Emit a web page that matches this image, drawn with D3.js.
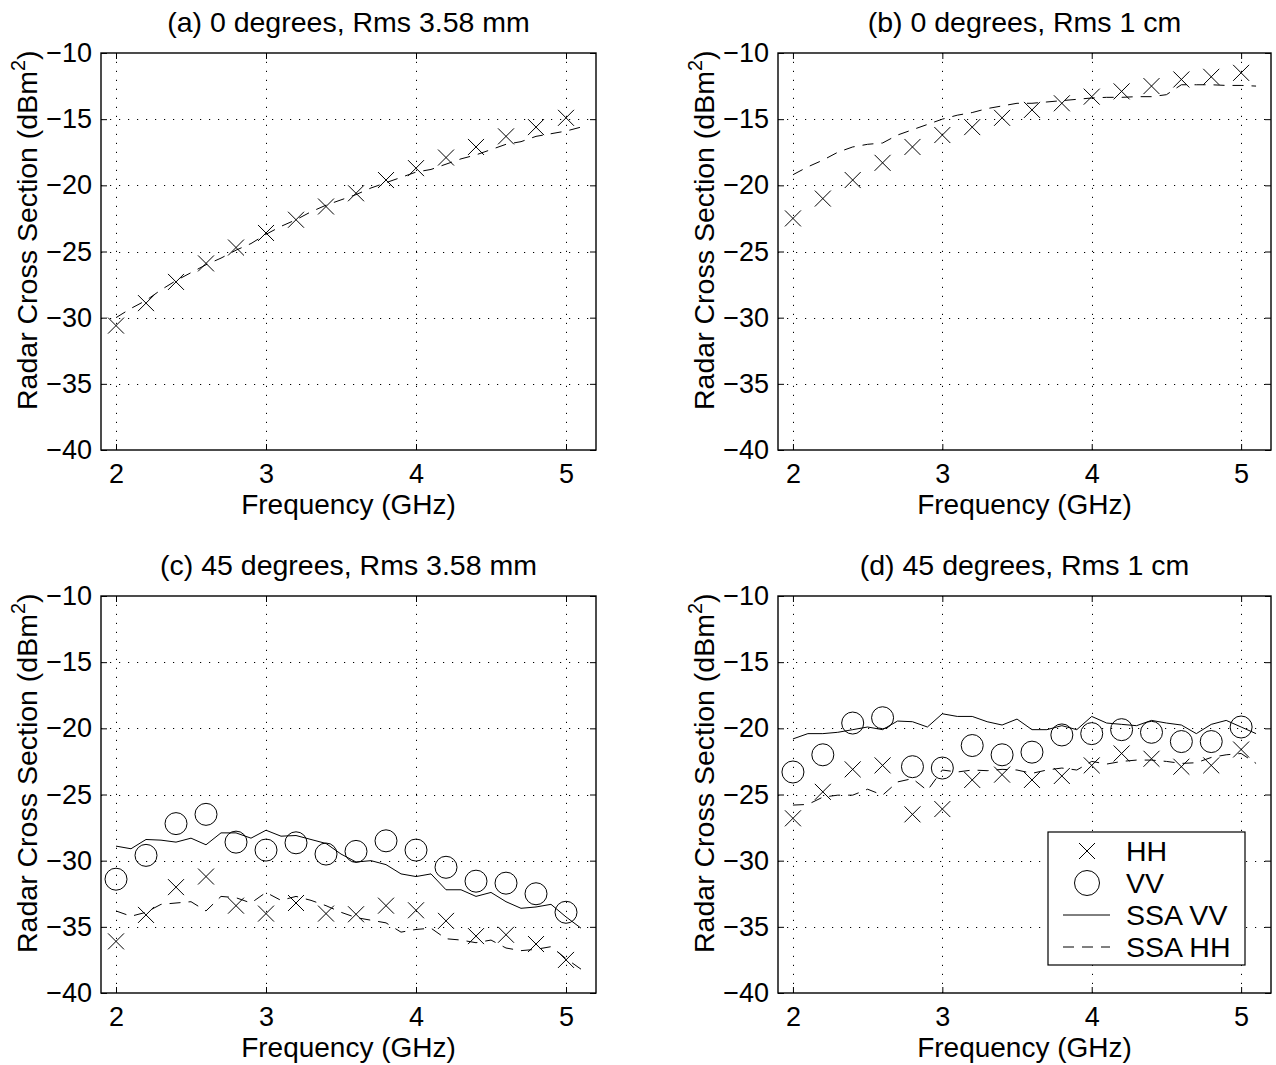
<!DOCTYPE html>
<html>
<head>
<meta charset="utf-8">
<script src="https://cdn.jsdelivr.net/npm/d3@7"></script>
<style>
  body { margin: 0; background: #fff; }
  svg text { font-family: "Liberation Sans", Arial, Helvetica, sans-serif; fill: #000; }
</style>
</head>
<body>
<svg id="fig" width="1276" height="1065"></svg>
<script>
// Frequencies (GHz) of the measured points and of the SSA model curves
const freqMeasured = [2.0, 2.2, 2.4, 2.6, 2.8, 3.0, 3.2, 3.4, 3.6, 3.8, 4.0, 4.2, 4.4, 4.6, 4.8, 5.0];
const freqSSA = [2.0, 2.1, 2.2, 2.3, 2.4, 2.5, 2.6, 2.7, 2.8, 2.9, 3.0, 3.1, 3.2, 3.3, 3.4, 3.5,
                 3.6, 3.7, 3.8, 3.9, 4.0, 4.1, 4.2, 4.3, 4.4, 4.5, 4.6, 4.7, 4.8, 4.9, 5.0, 5.1];

const panelTitles = [
  "(a) 0 degrees, Rms 3.58 mm",
  "(b) 0 degrees, Rms 1 cm",
  "(c) 45 degrees, Rms 3.58 mm",
  "(d) 45 degrees, Rms 1 cm"
];
const xTickValues = [2, 3, 4, 5];
const yTickValues = [-40, -35, -30, -25, -20, -15, -10];
const xDomain = [1.9, 5.2];
const yDomain = [-40, -10];
const legendLabels = ["HH", "VV", "SSA VV", "SSA HH"];

// (a) 0 degrees, rms 3.58 mm  (RCS in dBm^2)
const hhA = [-30.6, -28.9, -27.3, -25.9, -24.7, -23.6, -22.6, -21.6, -20.6, -19.6, -18.7, -17.9, -17.1, -16.3, -15.6, -14.9];
const ssaHHA = [-30.0, -29.3, -28.7, -27.9, -27.2, -26.6, -26.0, -25.5, -24.9, -24.4, -23.7, -23.1, -22.6, -22.0, -21.5, -21.1,
                -20.7, -20.2, -19.8, -19.4, -19.0, -18.8, -18.4, -18.0, -17.7, -17.3, -16.9, -16.7, -16.3, -16.1, -15.9, -15.6];

// (b) 0 degrees, rms 1 cm
const hhB = [-22.5, -21.0, -19.6, -18.3, -17.1, -16.2, -15.6, -14.9, -14.3, -13.8, -13.3, -12.9, -12.5, -12.0, -11.8, -11.5];
const ssaHHB = [-19.2, -18.6, -18.1, -17.5, -17.1, -16.9, -16.8, -16.2, -15.8, -15.4, -15.0, -14.7, -14.5, -14.2, -14.0, -13.8,
                -13.8, -13.7, -13.6, -13.5, -13.4, -13.35, -13.35, -13.3, -13.3, -13.15, -12.4, -12.4, -12.4, -12.45, -12.45, -12.5];

// (c) 45 degrees, rms 3.58 mm
const hhC = [-36.1, -34.1, -32.0, -31.2, -33.4, -34.0, -33.2, -34.0, -34.05, -33.4, -33.75, -34.55, -35.7, -35.6, -36.3, -37.5];
const vvC = [-31.4, -29.6, -27.2, -26.5, -28.6, -29.2, -28.65, -29.5, -29.3, -28.5, -29.2, -30.5, -31.55, -31.7, -32.5, -33.9];
const ssaVVC = [-28.9, -29.1, -28.4, -28.45, -28.6, -28.3, -28.8, -27.9, -27.9, -28.3, -27.7, -28.15, -28.1, -28.4, -28.7, -29.5,
                -30.1, -30.0, -30.3, -31.0, -31.2, -31.0, -32.2, -32.2, -32.7, -32.4, -33.1, -33.6, -33.5, -33.3, -34.25, -35.1];
const ssaHHC = [-33.8, -34.2, -33.9, -33.3, -33.2, -33.1, -33.8, -32.7, -32.8, -33.2, -32.4, -33.0, -32.7, -33.0, -33.4, -33.9,
                -34.3, -34.5, -34.7, -35.4, -35.2, -35.1, -35.9, -36.0, -36.2, -36.0, -36.6, -36.8, -36.7, -36.5, -37.4, -38.2];

// (d) 45 degrees, rms 1 cm
const hhD = [-26.8, -24.8, -23.1, -22.8, -26.5, -26.1, -23.9, -23.5, -23.9, -23.6, -22.8, -21.9, -22.3, -22.9, -22.8, -21.6];
const vvD = [-23.3, -22.0, -19.6, -19.2, -22.9, -23.0, -21.3, -22.0, -21.8, -20.5, -20.4, -20.1, -20.3, -21.0, -21.0, -19.9];
const ssaVVD = [-20.8, -20.4, -20.4, -20.3, -20.1, -19.9, -20.1, -19.45, -19.5, -19.9, -18.9, -19.1, -19.1, -19.5, -19.75, -19.3,
                -20.1, -20.1, -19.8, -20.1, -19.1, -19.6, -19.7, -19.8, -19.4, -19.6, -19.75, -20.4, -19.7, -19.4, -19.9, -20.4];
const ssaHHD = [-25.8, -25.75, -25.2, -25.05, -25.05, -24.6, -25.05, -24.05, -23.8, -24.7, -23.15, -23.3, -23.15, -23.2, -23.1, -23.15,
                -23.4, -23.15, -23.0, -23.15, -22.5, -22.7, -22.5, -22.4, -22.4, -22.5, -22.65, -22.6, -22.2, -22.0, -21.9, -22.65];

const panels = [
  { title: panelTitles[0], hh: hhA, vv: null, ssaVV: null, ssaHH: ssaHHA, col: 0, row: 0, legend: false },
  { title: panelTitles[1], hh: hhB, vv: null, ssaVV: null, ssaHH: ssaHHB, col: 1, row: 0, legend: false },
  { title: panelTitles[2], hh: hhC, vv: vvC, ssaVV: ssaVVC, ssaHH: ssaHHC, col: 0, row: 1, legend: false },
  { title: panelTitles[3], hh: hhD, vv: vvD, ssaVV: ssaVVD, ssaHH: ssaHHD, col: 1, row: 1, legend: true }
];

// Axes boxes
const colX = [[101, 596], [778, 1271]];
const rowY = [[53, 450], [596, 993]];
const TICK_FONT = 27;
const LABEL_FONT = 28.5;
const TICK = 6;
const CROSS = 8;
const RING = 11;
const DASH = "11,8";

const svg = d3.select("#fig");

function crossPath(cx, cy, s) {
  return `M${cx - s},${cy - s}L${cx + s},${cy + s}M${cx - s},${cy + s}L${cx + s},${cy - s}`;
}

panels.forEach(p => {
  const [x0, x1] = colX[p.col];
  const [y0, y1] = rowY[p.row];
  const x = d3.scaleLinear().domain(xDomain).range([x0, x1]);
  const y = d3.scaleLinear().domain(yDomain).range([y1, y0]);
  const g = svg.append("g");

  // dotted grid
  const grid = g.append("g")
    .attr("stroke", "#000").attr("stroke-width", 1)
    .attr("stroke-dasharray", "1.2,7.8").attr("fill", "none");
  grid.selectAll(".gx").data(xTickValues).join("line")
    .attr("x1", d => Math.round(x(d)) + 0.5).attr("x2", d => Math.round(x(d)) + 0.5)
    .attr("y1", y1).attr("y2", y0);
  grid.selectAll(".gy").data(yTickValues.filter(v => v !== yDomain[0] && v !== yDomain[1])).join("line")
    .attr("y1", d => Math.round(y(d)) + 0.5).attr("y2", d => Math.round(y(d)) + 0.5)
    .attr("x1", x0).attr("x2", x1);

  // axes with inward ticks on all four sides
  const fmt = d3.format("d");
  const ax = [
    g.append("g").attr("transform", `translate(0,${y1})`)
      .call(d3.axisBottom(x).tickValues(xTickValues).tickFormat(fmt).tickSizeInner(-TICK).tickSizeOuter(0).tickPadding(14)),
    g.append("g").attr("transform", `translate(0,${y0})`)
      .call(d3.axisTop(x).tickValues(xTickValues).tickFormat("").tickSizeInner(-TICK).tickSizeOuter(0)),
    g.append("g").attr("transform", `translate(${x0},0)`)
      .call(d3.axisLeft(y).tickValues(yTickValues).tickFormat(fmt).tickSizeInner(-TICK).tickSizeOuter(0).tickPadding(9)),
    g.append("g").attr("transform", `translate(${x1},0)`)
      .call(d3.axisRight(y).tickValues(yTickValues).tickFormat("").tickSizeInner(-TICK).tickSizeOuter(0))
  ];
  ax.forEach(a => {
    a.select(".domain").remove();
    a.selectAll("line").attr("stroke", "#000").attr("stroke-width", 1);
    a.selectAll("text").attr("font-size", TICK_FONT).attr("fill", "#000")
      .style("font-family", "'Liberation Sans', Arial, Helvetica, sans-serif");
  });

  // frame
  g.append("rect").attr("x", x0).attr("y", y0).attr("width", x1 - x0).attr("height", y1 - y0)
    .attr("fill", "none").attr("stroke", "#000").attr("stroke-width", 1.4);

  // SSA model curves
  const line = d3.line().x((d, i) => x(freqSSA[i])).y(d => y(d));
  if (p.ssaVV) {
    g.append("path").datum(p.ssaVV).attr("d", line)
      .attr("fill", "none").attr("stroke", "#000").attr("stroke-width", 1);
  }
  if (p.ssaHH) {
    g.append("path").datum(p.ssaHH).attr("d", line)
      .attr("fill", "none").attr("stroke", "#000").attr("stroke-width", 1)
      .attr("stroke-dasharray", DASH);
  }

  // measured HH (crosses) and VV (circles)
  g.append("g").selectAll("path").data(p.hh).join("path")
    .attr("d", (d, i) => crossPath(x(freqMeasured[i]), y(d), CROSS))
    .attr("fill", "none").attr("stroke", "#000").attr("stroke-width", 1);
  if (p.vv) {
    g.append("g").selectAll("circle").data(p.vv).join("circle")
      .attr("cx", (d, i) => x(freqMeasured[i])).attr("cy", d => y(d)).attr("r", RING)
      .attr("fill", "none").attr("stroke", "#000").attr("stroke-width", 1);
  }

  // title and axis labels
  g.append("text").attr("x", (x0 + x1) / 2).attr("y", y0 - 21)
    .attr("text-anchor", "middle").attr("font-size", LABEL_FONT).text(p.title);
  g.append("text").attr("x", (x0 + x1) / 2).attr("y", y1 + 64)
    .attr("text-anchor", "middle").attr("font-size", 28).text("Frequency (GHz)");
  const yl = g.append("text")
    .attr("transform", `translate(${x0 - 64},${y1 - 40}) rotate(-90)`)
    .attr("text-anchor", "start").attr("font-size", LABEL_FONT);
  yl.append("tspan").text("Radar Cross Section (dBm");
  yl.append("tspan").attr("font-size", LABEL_FONT * 0.7).attr("dy", -12).text("2");
  yl.append("tspan").attr("dy", 12).text(")");

  // legend
  if (p.legend) {
    const lx = 1048, ly = 832, lw = 197, lh = 133;
    const lg = g.append("g");
    lg.append("rect").attr("x", lx).attr("y", ly).attr("width", lw).attr("height", lh)
      .attr("fill", "#fff").attr("stroke", "#000").attr("stroke-width", 1.2);
    const rowH = 32, first = ly + 19, mx = lx + 39;
    legendLabels.forEach((lab, i) => {
      const cy = first + i * rowH;
      if (lab === "HH") {
        lg.append("path").attr("d", crossPath(mx, cy, CROSS)).attr("fill", "none").attr("stroke", "#000");
      } else if (lab === "VV") {
        lg.append("circle").attr("cx", mx).attr("cy", cy).attr("r", RING + 1.5).attr("fill", "none").attr("stroke", "#000");
      } else {
        lg.append("line").attr("x1", mx - 24).attr("x2", mx + 23).attr("y1", cy).attr("y2", cy)
          .attr("stroke", "#000").attr("stroke-width", 1)
          .attr("stroke-dasharray", lab === "SSA HH" ? DASH : null);
      }
      lg.append("text").attr("x", lx + 78).attr("y", cy + 10).attr("font-size", LABEL_FONT).text(lab);
    });
  }
});
</script>
</body>
</html>
